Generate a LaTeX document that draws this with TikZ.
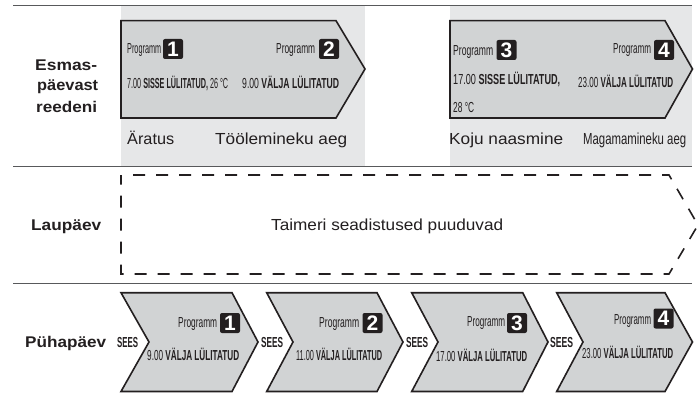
\documentclass[tikz,border=0pt]{standalone}
\usepackage{graphicx}
\usepackage{fontspec}
\setmainfont{Liberation Sans}
\definecolor{ink}{HTML}{231F20}
\definecolor{bandgray}{HTML}{E6E7E8}
\definecolor{arrowgray}{HTML}{D1D3D4}
\definecolor{rulegray}{HTML}{58595B}
\newcommand{\fw}[2]{\resizebox{#1pt}{\height}{#2}}
\tikzset{
  lbl/.style={anchor=base west,inner sep=0pt,text=ink},
  small/.style={lbl,font=\fontsize{14.5}{16}\selectfont},
  big/.style={lbl,font=\fontsize{16}{18}\selectfont},
  head/.style={lbl,font=\fontsize{15.5}{18}\selectfont\bfseries},
  badge/.style={fill=ink,text=white,rounded corners=2pt,minimum size=20pt,inner sep=0pt,anchor=center,font=\fontsize{21}{21}\selectfont\bfseries},
  rulel/.style={draw=rulegray,line width=1.4pt},
  shapeb/.style={draw=ink,line width=1.6pt,fill=arrowgray,line join=miter},
  dashb/.style={draw=ink,line width=1.6pt,dash pattern=on 12pt off 11pt}
}
\begin{document}
\begin{tikzpicture}[x=1pt,y=-1pt]
\useasboundingbox (0,0) rectangle (699,396);
\fill[white] (0,0) rectangle (699,396);
% bands
\fill[bandgray] (121,6) rectangle (365,166);
\fill[bandgray] (450,6) rectangle (692,166);
% rules
\draw[rulel] (13,5.5) -- (692,5.5);
\draw[rulel] (13,166.5) -- (692,166.5);
\draw[rulel] (13,283.5) -- (692,283.5);
% weekday arrows
\draw[shapeb] (121,20.7) -- (336,20.7) -- (365,69) -- (336,118) -- (121,118) -- cycle;
\draw[shapeb] (450,20.7) -- (665,20.7) -- (692.5,69) -- (665,118) -- (450,118) -- cycle;
% saturday
\draw[dashb] (133,175) -- (669,175) -- (698,225) -- (669,274) -- (121,274) -- (121,175);
% sunday chevrons
\draw[shapeb] (121,292.7) -- (232,292.7) -- (258,342) -- (232,391.5) -- (121,391.5) -- (149,342) -- cycle;
\draw[shapeb] (266.7,292.7) -- (377,292.7) -- (403,342) -- (377,391.5) -- (266.7,391.5) -- (293,342) -- cycle;
\draw[shapeb] (411.7,292.7) -- (522.7,292.7) -- (548,342) -- (522.7,391.5) -- (411.7,391.5) -- (438,342) -- cycle;
\draw[shapeb] (556.7,292.7) -- (665,292.7) -- (692.5,342) -- (665,391.5) -- (556.7,391.5) -- (583,342) -- cycle;
% row heads
\node[head] (h1a) at (35,71) {\fw{62}{Esmas-}};
\node[head] (h1b) at (37,91) {\fw{61}{päevast}};
\node[head] (h1c) at (36,113) {\fw{61}{reedeni}};
\node[head] (h2) at (31,230) {\fw{70}{Laupäev}};
\node[head] (h3) at (25,347) {\fw{81}{Pühapäev}};
% weekday text
\node[small] (p1) at (127,54) {\fw{34}{Programm}};
\node[badge] (b1) at (173,49) {1};
\node[small] (p2) at (276,54) {\fw{39}{Programm}};
\node[badge] (b2) at (329,49) {2};
\node[small] (t1) at (127,88.5) {\fw{101}{7.00 \textbf{SISSE LÜLITATUD,} 26 °C}};
\node[small] (t2) at (242,88.5) {\fw{97}{9.00 \textbf{VÄLJA LÜLITATUD}}};
\node[big] (n1) at (127,144) {\fw{47}{Äratus}};
\node[big] (n2) at (215,144) {\fw{132}{Töölemineku aeg}};
\node[small] (p3) at (453,56) {\fw{40}{Programm}};
\node[badge] (b3) at (506.5,50) {3};
\node[small] (p4) at (613,54) {\fw{38}{Programm}};
\node[badge] (b4) at (664,50) {4};
\node[small] (t3) at (453,84.5) {\fw{107}{17.00 \textbf{SISSE LÜLITATUD,}}};
\node[small] (t3b) at (453,112) {\fw{21}{28 °C}};
\node[small] (t4) at (578,87.5) {\fw{95}{23.00 \textbf{VÄLJA LÜLITATUD}}};
\node[big] (n3) at (449,144) {\fw{114}{Koju naasmine}};
\node[big] (n4) at (583,144) {\fw{103}{Magamamineku aeg}};
% saturday text
\node[big] (sat) at (271,230) {\fw{232}{Taimeri seadistused puuduvad}};
% sunday text
\node[small] (s1) at (117,347.5) {\fw{21}{\textbf{SEES}}};
\node[small] (q1) at (178,327) {\fw{39}{Programm}};
\node[badge] (c1) at (230,323) {1};
\node[small] (u1) at (147,360.5) {\fw{92}{9.00 \textbf{VÄLJA LÜLITATUD}}};
\node[small] (s2) at (261,347) {\fw{22}{\textbf{SEES}}};
\node[small] (q2) at (319,327) {\fw{40}{Programm}};
\node[badge] (c2) at (372.5,323) {2};
\node[small] (u2) at (296,360.5) {\fw{86}{11.00 \textbf{VÄLJA LÜLITATUD}}};
\node[small] (s3) at (406,347.5) {\fw{22}{\textbf{SEES}}};
\node[small] (q3) at (467,326) {\fw{38}{Programm}};
\node[badge] (c3) at (517,323) {3};
\node[small] (u3) at (436,361.5) {\fw{91}{17.00 \textbf{VÄLJA LÜLITATUD}}};
\node[small] (s4) at (550,347.5) {\fw{23}{\textbf{SEES}}};
\node[small] (q4) at (614,324) {\fw{37}{Programm}};
\node[badge] (c4) at (663.5,318.5) {4};
\node[small] (u4) at (582,358.5) {\fw{91}{23.00 \textbf{VÄLJA LÜLITATUD}}};
\end{tikzpicture}
\end{document}
